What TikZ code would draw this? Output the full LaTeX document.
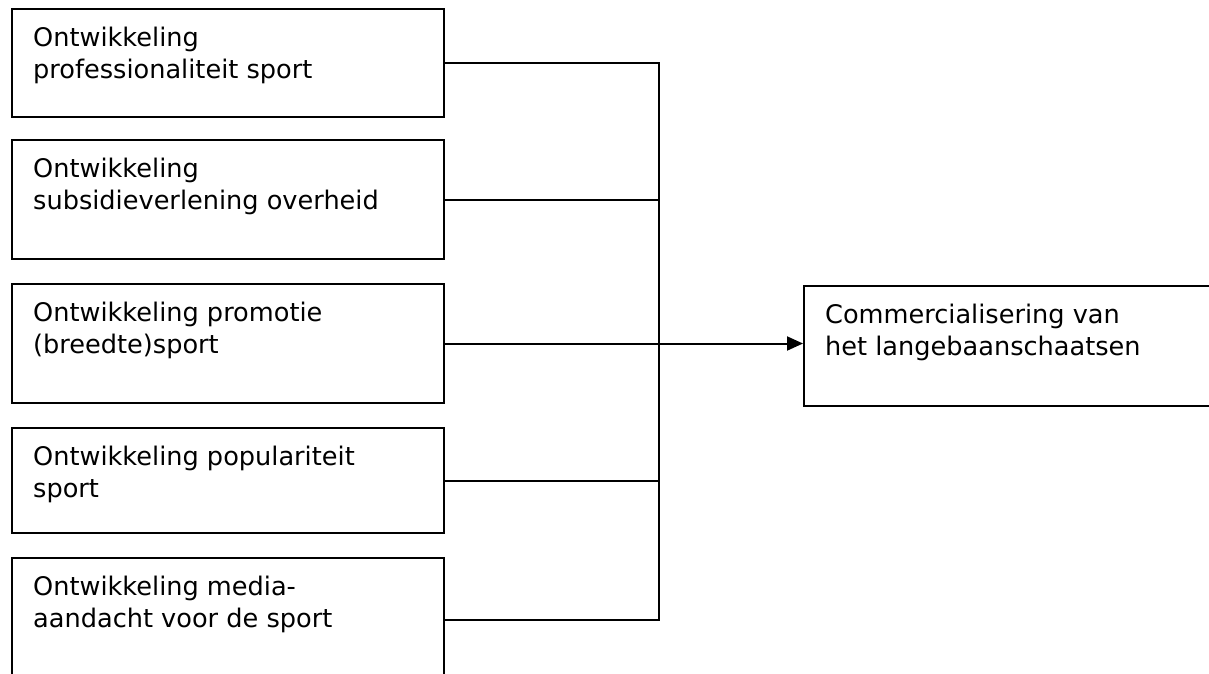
\documentclass[tikz,border=0pt]{standalone}
\usepackage{fontspec}
\setmainfont{DejaVu Sans}
\usetikzlibrary{arrows.meta}
\tikzset{
  box/.style={draw, line width=2pt, rectangle, anchor=north west, inner sep=0pt,
    minimum width=432pt},
  boxtext/.style={anchor=north west, inner sep=0pt, align=left,
    font=\fontsize{25.6}{31.5}\selectfont},
  link/.style={line width=2pt, line cap=rect},
}

\begin{document}
\begin{tikzpicture}[x=1pt, y=-1pt]
			%%%%% START %%%%%
			\useasboundingbox (0, 0) rectangle (1209, 673);
			\clip (0, 0) rectangle (1209, 673);
			
			\node[box, minimum height=108pt] (prof) at (11, 8) {};
			\node[box, minimum height=119pt] (subs) at (11, 139) {};
			\node[box, minimum height=119pt] (prom) at (11, 283) {};
			\node[box, minimum height=105pt] (popu) at (11, 427) {};
			\node[box, minimum height=124pt] (medi) at (11, 557) {};
			\node[box, minimum width=440pt, minimum height=120pt] (comm) at (803, 285) {};
			
			\node[boxtext] (profT) at (33, 27) {Ontwikkeling\\professionaliteit sport};
			\node[boxtext] (subsT) at (33, 158) {Ontwikkeling\\subsidieverlening overheid};
			\node[boxtext] (promT) at (33, 302) {Ontwikkeling promotie\\(breedte)sport};
			\node[boxtext] (popuT) at (33, 446) {Ontwikkeling populariteit\\sport};
			\node[boxtext] (mediT) at (33, 576) {Ontwikkeling media-\\aandacht voor de sport};
			\node[boxtext] (commT) at (825, 304) {Commercialisering van\\het langebaanschaatsen};
			
			\coordinate (bus) at (659, 0);
			
			\draw[link] (prof.east) -- (prof.east -| bus) -- (medi.east -| bus) -- (medi.east);
			\draw[link] (subs.east) -- (subs.east -| bus);
			\draw[link] (prom.east) -- (prom.east -| bus);
			\draw[link] (popu.east) -- (popu.east -| bus);
			
			\draw[link, -{Triangle[length=16pt, width=14pt]}] (prom.east -| bus) -- (prom.east -| comm.west);
			%%%%% END %%%%%
\end{tikzpicture}
\end{document}
